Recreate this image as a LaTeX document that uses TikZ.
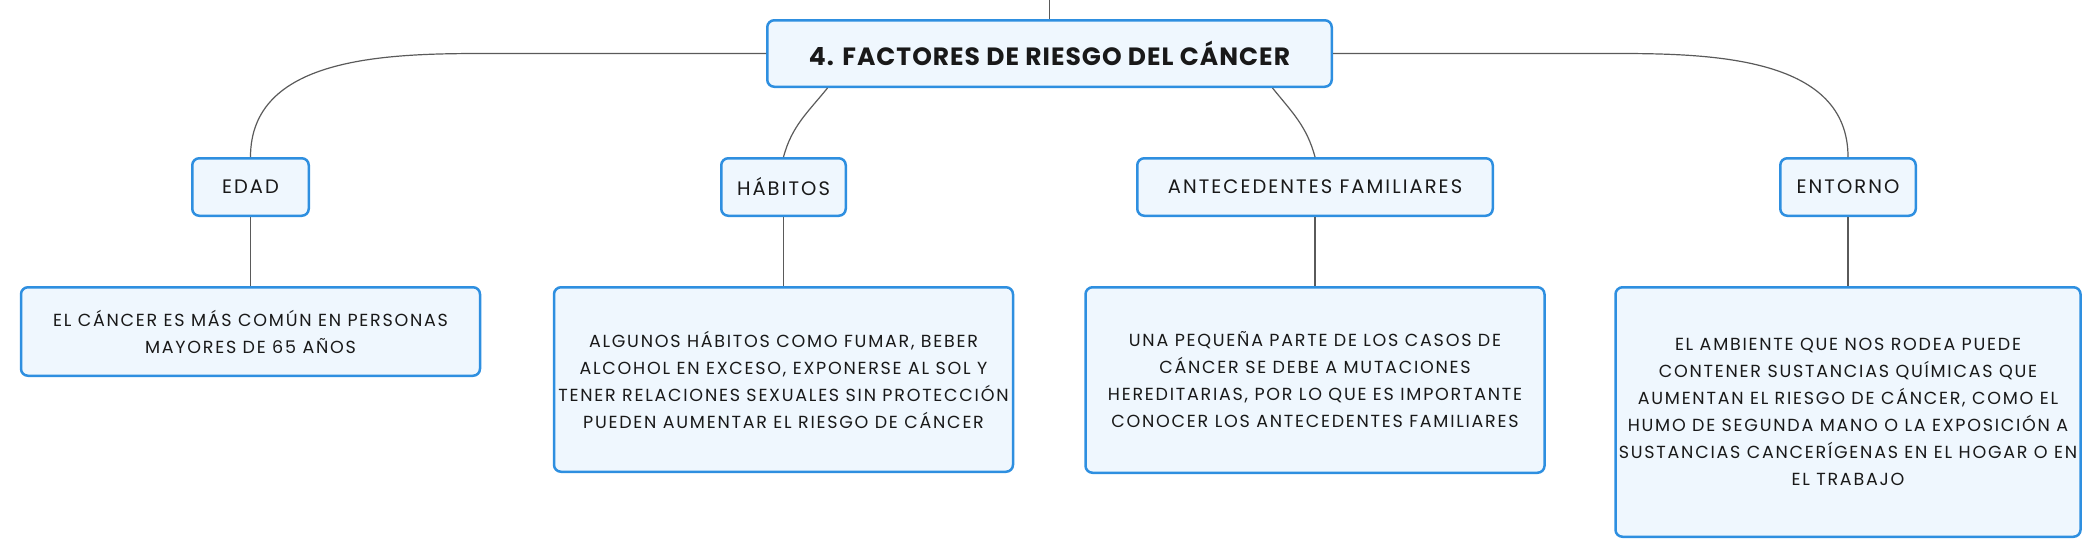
\documentclass[tikz,border=0pt]{standalone}
\usepackage{fontspec}
\setmainfont{Poppins}
\newfontfamily\fuentetitulo[LetterSpace=4]{Poppins}
\newfontfamily\fuentetema[LetterSpace=10.5]{Poppins}
\newfontfamily\fuentetexto[LetterSpace=10]{Poppins}
\usepackage{tikz}
\usepackage{xcolor}
\usetikzlibrary{positioning}
\usetikzlibrary{arrows,calc}
\definecolor{borde}{HTML}{2E8FE0}
\definecolor{relleno}{HTML}{EFF7FE}
\definecolor{linea}{HTML}{5A5A5A}

\begin{document}
\begin{tikzpicture} [
       x=1pt, y=1pt,
       caja/.style={draw=borde, line width=2.5pt, fill=relleno, rounded corners=7pt,
               text=black!90, align=center},
       raiz/.style={caja, minimum width=564.5pt, minimum height=66.5pt,
               font=\fuentetitulo\fontsize{25}{29}\selectfont\bfseries},
       tema/.style={caja, minimum height=57.5pt, font=\fuentetema\fontsize{19.5}{23}\selectfont},
       texto/.style={caja, minimum width=459pt, font=\fuentetexto\fontsize{17.5}{27}\selectfont},
       line/.style = { draw=linea, line width=1.2pt },
       node distance=69pt,
       ]
       \useasboundingbox (0,0) rectangle (2100,-558);
       \node (raiz) [raiz] at (1049.5,-53.5) {4. FACTORES DE RIESGO DEL CÁNCER};
       \coordinate (arriba) at (1049.5,0);
       \node (edad) [tema, minimum width=116.5pt] at (250.5,-187) {EDAD};
       \node (habitos) [tema, minimum width=124.5pt] at (783.5,-187) {HÁBITOS};
       \node (antec) [tema, minimum width=355.5pt] at (1315,-187) {ANTECEDENTES FAMILIARES};
       \node (entorno) [tema, minimum width=135.5pt] at (1848,-187) {ENTORNO};
       \node (tedad) [texto, minimum height=88.5pt, below = of edad]
               {EL CÁNCER ES MÁS COMÚN EN PERSONAS\\MAYORES DE 65 AÑOS};
       \node (thabitos) [texto, minimum height=184.5pt, below = of habitos]
               {ALGUNOS HÁBITOS COMO FUMAR, BEBER\\ALCOHOL EN EXCESO, EXPONERSE AL SOL Y\\
                TENER RELACIONES SEXUALES SIN PROTECCIÓN\\PUEDEN AUMENTAR EL RIESGO DE CÁNCER};
       \node (tantec) [texto, minimum height=185.5pt, below = of antec]
               {UNA PEQUEÑA PARTE DE LOS CASOS DE\\CÁNCER SE DEBE A MUTACIONES\\
                HEREDITARIAS, POR LO QUE ES IMPORTANTE\\CONOCER LOS ANTECEDENTES FAMILIARES};
       \node (tentorno) [texto, minimum height=249.5pt, below = of entorno]
               {EL AMBIENTE QUE NOS RODEA PUEDE\\CONTENER SUSTANCIAS QUÍMICAS QUE\\
                AUMENTAN EL RIESGO DE CÁNCER, COMO EL\\HUMO DE SEGUNDA MANO O LA EXPOSICIÓN A\\
                SUSTANCIAS CANCERÍGENAS EN EL HOGAR O EN\\EL TRABAJO};
       \begin{scope}[every path/.style=line]
       \path (arriba) -- (raiz);
       \path (raiz.west) -- ++(-284,0) to[out=180, in=90] (edad.north);
       \path ([xshift=-222pt]raiz.south) to[out=231, in=75] (habitos.north);
       \path ([xshift=223pt]raiz.south) to[out=309, in=105] (antec.north);
       \path (raiz.east) -- ++(285,0) to[out=0, in=90] (entorno.north);
       \path (edad) -- (tedad);
       \path (habitos) -- (thabitos);
       \path (antec) -- (tantec);
       \path (entorno) -- (tentorno);
       \end{scope}
\end{tikzpicture}
\end{document}
